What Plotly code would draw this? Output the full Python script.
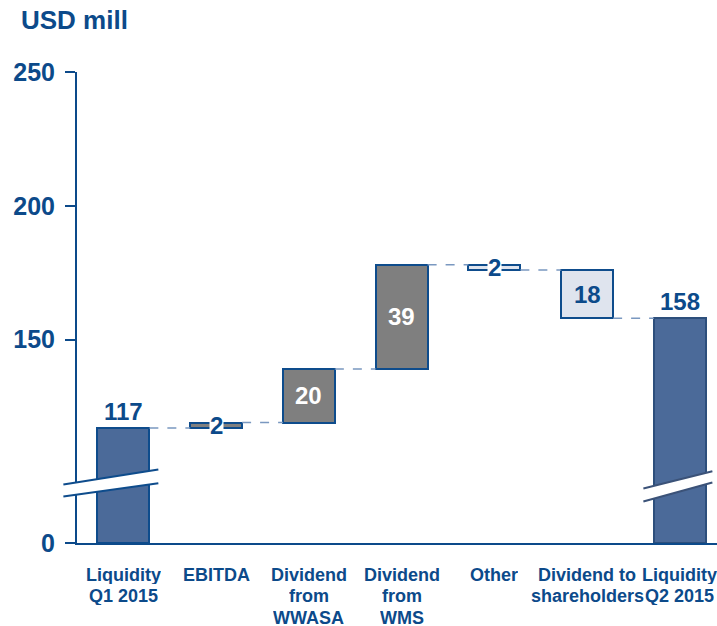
import plotly.graph_objects as go

# ---- data ----
categories = [["Liquidity", "Q1 2015"], ["EBITDA"], ["Dividend", "from", "WWASA"],
              ["Dividend", "from", "WMS"], ["Other"], ["Dividend to", "shareholders"],
              ["Liquidity", "Q2 2015"]]
start_value = 117
deltas = [2, 20, 39, -2, -18]
end_value = 158
y_tick_vals = [150, 200, 250]
y_tick_text = ["150", "200", "250"]
axis_floor = 74          # value drawn as "0" below the axis break
break_zero_label = "0"

# ---- styles ----
BLUE_TXT = "#0c4a8a"
TOTAL_FILL = "#4b6a99"
UP_FILL = "#7f7f7f"
DOWN_FILL = "#dfe4ee"
CONN = "#7a98c0"
FONT = "Arial, Liberation Sans, sans-serif"
BAR_W = 0.56

levels = [start_value]
for d in deltas:
    levels.append(levels[-1] + d)

bases, heights, fills, lines_c = [], [], [], []
bases.append(axis_floor); heights.append(start_value - axis_floor)
fills.append(TOTAL_FILL); lines_c.append("#0e4c8c")
for i, d in enumerate(deltas):
    lo = min(levels[i], levels[i + 1])
    bases.append(lo); heights.append(abs(d))
    fills.append(UP_FILL if d > 0 else DOWN_FILL); lines_c.append("#0e4c8c")
bases.append(axis_floor); heights.append(end_value - axis_floor)
fills.append(TOTAL_FILL); lines_c.append("#2d4f7c")

xs = list(range(len(categories)))

fig = go.Figure()
fig.add_trace(go.Bar(x=xs, y=heights, base=bases, width=BAR_W,
                     marker=dict(color=fills, line=dict(color=lines_c, width=2)),
                     hoverinfo="skip"))

# connectors
for i, lv in enumerate(levels):
    fig.add_trace(go.Scatter(x=[i + BAR_W / 2, i + 1 - BAR_W / 2], y=[lv, lv],
                             mode="lines", line=dict(color=CONN, width=1.6, dash="dash"),
                             hoverinfo="skip"))

# value labels
LBL = dict(size=24, color=BLUE_TXT, family=FONT)
ann = []
ann.append(dict(x=0, y=start_value, text=f"<b>{start_value}</b>", showarrow=False,
                yanchor="bottom", yshift=1, font=LBL))
ann.append(dict(x=len(categories) - 1, y=end_value, text=f"<b>{end_value}</b>", showarrow=False,
                yanchor="bottom", yshift=1, font=LBL))
for i, d in enumerate(deltas):
    mid = (levels[i] + levels[i + 1]) / 2
    if abs(d) < 5:
        ann.append(dict(x=i + 1, y=mid, text=f"<b>{abs(d)}</b>", showarrow=False, bgcolor="white",
                        borderpad=0, font=LBL))
    else:
        col = "white" if d > 0 else BLUE_TXT
        ann.append(dict(x=i + 1, y=mid, text=f"<b>{abs(d)}</b>", showarrow=False,
                        font=dict(size=24, color=col, family=FONT)))

# category labels (one annotation per line for tight line spacing)
for i, lines in enumerate(categories):
    for k, ln in enumerate(lines):
        ann.append(dict(x=i, xref="x", y=0, yref="paper", text=f"<b>{ln}</b>",
                        showarrow=False, yanchor="middle", xanchor="center",
                        yshift=-(31.5 + 21.8 * k), height=18, borderpad=0,
                        font=dict(size=18, color=BLUE_TXT, family=FONT)))

X_MIN, X_MAX = -0.5, 6.4


def px_paper(c):
    return (c - X_MIN) / (X_MAX - X_MIN)


shapes = []


def add_break(c0, c1, up0, up1, lo0, lo1, color):
    x0, x1 = px_paper(c0), px_paper(c1)
    shapes.append(dict(type="path", xref="paper", yref="y", layer="above",
                       path=f"M {x0},{up0} L {x1},{up1} L {x1},{lo1} L {x0},{lo0} Z",
                       fillcolor="white", line=dict(width=0)))
    shapes.append(dict(type="line", xref="paper", yref="y", layer="above",
                       x0=x0, x1=x1, y0=up0, y1=up1, line=dict(color=color, width=2)))
    shapes.append(dict(type="line", xref="paper", yref="y", layer="above",
                       x0=x0, x1=x1, y0=lo0, y1=lo1, line=dict(color=color, width=2)))


add_break(-0.647, 0.377, 95.9, 101.5, 91.4, 96.3, "#0e4c8c")
add_break(5.606, 6.35, 94.4, 100.8, 89.5, 96.6, "#3b5278")

fig.update_layout(
    width=717, height=626,
    margin=dict(l=77, r=0, t=72, b=83),
    paper_bgcolor="white", plot_bgcolor="white",
    showlegend=False,
    font=dict(family=FONT, color=BLUE_TXT),
    title=dict(text="<b>USD mill</b>", x=21 / 717, xanchor="left", xref="container",
               y=1 - 11 / 626, yanchor="top", yref="container",
               font=dict(size=26, color=BLUE_TXT, family=FONT)),
    annotations=ann,
    shapes=shapes,
    bargap=0,
)
fig.update_xaxes(range=[X_MIN, X_MAX], tickvals=xs, showticklabels=False,
                 showline=True, linecolor=BLUE_TXT, linewidth=2, showgrid=False,
                 zeroline=False, ticks="", automargin=False)
fig.update_yaxes(range=[axis_floor, 250], tickvals=[axis_floor] + y_tick_vals,
                 ticktext=[f"<b>{t}</b>" for t in [break_zero_label] + y_tick_text],
                 showline=True, linecolor=BLUE_TXT, linewidth=2, showgrid=False,
                 zeroline=False, ticks="outside", ticklen=10, tickwidth=2,
                 tickcolor=BLUE_TXT, ticklabelstandoff=5, automargin=False,
                 tickfont=dict(size=25, color=BLUE_TXT, family=FONT))

fig.write_html("out.html")
